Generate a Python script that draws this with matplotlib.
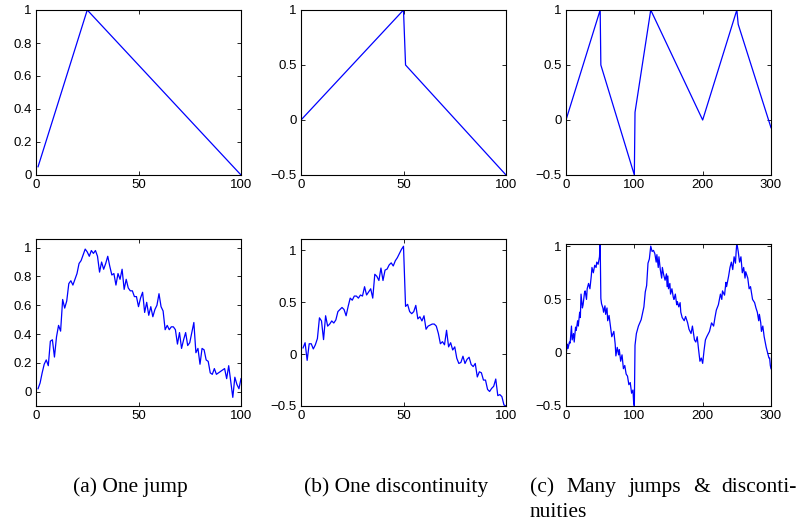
import numpy as np
import matplotlib
matplotlib.use("Agg")
import matplotlib.pyplot as plt

# clean signals (breakpoints)
jump_x = [1, 25, 100]
jump_y = [0.05, 1.0, 0.0]
disc_x = [0, 50, 51, 100]
disc_y = [0.0, 1.0, 0.5, -0.5]
many_x = [0, 50, 51, 100, 101, 124, 200, 250, 252, 300]
many_y = [0.0, 1.0, 0.5, -0.5, 0.07, 1.0, 0.0, 1.0, 0.87, -0.07]

# noisy observations
noisy_jump_x = list(range(1, 101))
noisy_jump_y = [
    0.02, 0.06, 0.13, 0.19, 0.22, 0.18, 0.35, 0.36, 0.24, 0.38,
    0.46, 0.42, 0.64, 0.58, 0.63, 0.75, 0.77, 0.74, 0.78, 0.82,
    0.89, 0.91, 0.95, 0.99, 0.97, 0.94, 0.98, 0.96, 0.98, 0.94,
    0.83, 0.90, 0.85, 0.89, 0.94, 0.87, 0.81, 0.82, 0.74, 0.82,
    0.78, 0.85, 0.71, 0.78, 0.72, 0.70, 0.70, 0.66, 0.66, 0.59,
    0.65, 0.69, 0.55, 0.62, 0.53, 0.59, 0.52, 0.57, 0.60, 0.68,
    0.59, 0.56, 0.43, 0.46, 0.43, 0.45, 0.45, 0.43, 0.33, 0.41,
    0.30, 0.36, 0.41, 0.32, 0.34, 0.41, 0.48, 0.27, 0.30, 0.19,
    0.30, 0.29, 0.22, 0.21, 0.13, 0.12, 0.16, 0.12, 0.13, 0.14,
    0.15, 0.16, 0.09, 0.18, 0.07, -0.04, 0.10, 0.05, 0.02, 0.09,
]
noisy_disc_x = list(range(1, 101))
noisy_disc_y = [
    0.06, 0.11, -0.06, 0.10, 0.10, 0.05, 0.09, 0.15, 0.35, 0.32,
    0.14, 0.37, 0.27, 0.29, 0.32, 0.30, 0.33, 0.41, 0.43, 0.45,
    0.43, 0.37, 0.46, 0.54, 0.52, 0.56, 0.56, 0.54, 0.57, 0.56,
    0.65, 0.57, 0.60, 0.63, 0.54, 0.77, 0.75, 0.71, 0.83, 0.71,
    0.81, 0.82, 0.86, 0.88, 0.85, 0.90, 0.93, 0.97, 1.01, 1.04,
    0.46, 0.48, 0.41, 0.39, 0.41, 0.47, 0.34, 0.36, 0.32, 0.37,
    0.24, 0.27, 0.28, 0.29, 0.29, 0.27, 0.20, 0.10, 0.12, 0.09,
    0.23, 0.07, 0.11, 0.04, 0.07, -0.04, -0.09, -0.08, -0.02, -0.09,
    -0.05, -0.03, -0.10, -0.12, -0.09, -0.22, -0.17, -0.18, -0.25, -0.25,
    -0.34, -0.36, -0.33, -0.31, -0.24, -0.40, -0.39, -0.41, -0.49, -0.50,
]
noisy_many_x = [
    0, 2, 3, 5, 6, 8, 9, 11, 12, 14, 15, 17, 18, 20, 21, 22, 24, 25, 27,
    28, 30, 31, 33, 35, 37, 38, 40, 42, 44, 45, 47, 49, 50,
    51, 52, 54, 55, 57, 58, 60, 61, 63, 65, 67, 70, 72, 73, 75, 77, 78,
    80, 82, 84, 86, 88, 90, 92, 94, 96, 98, 99, 100,
    101, 103, 106, 110, 114, 116, 118, 120, 122, 124,
    126, 128, 130, 132, 133, 135, 136, 138, 140, 141, 143, 145, 147, 148,
    149, 150, 152, 153, 155, 157, 158, 160, 162, 163, 165, 167, 168, 170,
    173, 175, 178, 180, 183, 185, 188, 190, 192, 194, 196, 198, 200,
    202, 204, 206, 210, 213, 216, 218, 220, 223, 226, 228, 229, 232, 234,
    235, 238, 240, 242, 244, 246, 248, 249, 250,
    252, 254, 256, 258, 260, 262, 263, 266, 268, 270, 273, 276, 278, 280,
    282, 283, 285, 286, 288, 290, 293, 295, 297, 298, 299, 300,
]
noisy_many_y = [
    -0.02, 0.08, 0.04, 0.10, 0.09, 0.25, 0.12, 0.18, 0.10, 0.24, 0.21, 0.30, 0.25, 0.38, 0.33, 0.55, 0.42, 0.45, 0.56,
    0.58, 0.50, 0.60, 0.65, 0.60, 0.72, 0.80, 0.75, 0.82, 0.80, 0.85, 0.83, 0.90, 1.03,
    0.51, 0.46, 0.42, 0.38, 0.44, 0.36, 0.42, 0.30, 0.35, 0.25, 0.15, 0.20, 0.08, -0.03, 0.05, -0.02, 0.03,
    -0.08, -0.02, -0.15, -0.12, -0.20, -0.22, -0.30, -0.28, -0.38, -0.35, -0.47, -0.50,
    0.07, 0.18, 0.25, 0.31, 0.43, 0.57, 0.63, 0.84, 0.88, 1.00,
    0.95, 0.96, 0.93, 0.85, 0.92, 0.80, 0.90, 0.78, 0.70, 0.80, 0.73, 0.68, 0.74, 0.62,
    0.72, 0.60, 0.65, 0.55, 0.60, 0.52, 0.50, 0.55, 0.45, 0.48, 0.43, 0.47, 0.38, 0.33,
    0.30, 0.34, 0.28, 0.22, 0.18, 0.25, 0.12, 0.10, 0.15, 0.03, -0.08, -0.05, -0.10,
    0.02, 0.12, 0.15, 0.20, 0.28, 0.25, 0.33, 0.40, 0.45, 0.55, 0.50, 0.58, 0.54, 0.66,
    0.62, 0.72, 0.80, 0.85, 0.78, 0.90, 0.84, 0.95, 1.03,
    0.95, 0.85, 0.90, 0.75, 0.80, 0.70, 0.76, 0.70, 0.60, 0.62, 0.50, 0.47, 0.42, 0.38,
    0.30, 0.36, 0.28, 0.20, 0.25, 0.15, 0.05, 0.00, -0.05, -0.05, -0.12, -0.15,
]

captions = ["(a) One jump", "(b) One discontinuity",
            "(c) Many jumps & disconti-", "nuities"]

plt.rcParams['font.family'] = ['Liberation Sans', 'DejaVu Sans']
plt.rcParams['font.size'] = 9.5

W, H = 799, 525
fig = plt.figure(figsize=(W / 100, H / 100), dpi=100)

def make_ax(left, top, right, bottom):
    ax = fig.add_axes([left / W, 1 - bottom / H, (right - left) / W, (bottom - top) / H])
    ax.tick_params(direction='in', top=True, right=True, length=3, width=0.6, pad=3)
    for s in ax.spines.values():
        s.set_linewidth(0.8)
    return ax

blue = (0, 0, 1)
lw = 0.9

# top row: clean signals
ax = make_ax(36, 10, 241, 175)
ax.plot(jump_x, jump_y, color=blue, lw=lw)
ax.set_xlim(0, 100); ax.set_ylim(0, 1)
ax.set_xticks([0, 50, 100]); ax.set_yticks([0, 0.2, 0.4, 0.6, 0.8, 1])
ax.set_yticklabels(['0', '0.2', '0.4', '0.6', '0.8', '1'])

ax = make_ax(301, 10, 506, 175)
ax.plot(disc_x, disc_y, color=blue, lw=lw)
ax.set_xlim(0, 100); ax.set_ylim(-0.5, 1)
ax.set_xticks([0, 50, 100]); ax.set_yticks([-0.5, 0, 0.5, 1])
ax.set_yticklabels(['\u22120.5', '0', '0.5', '1'])

ax = make_ax(566, 10, 771, 175)
ax.plot(many_x, many_y, color=blue, lw=lw)
ax.set_xlim(0, 300); ax.set_ylim(-0.5, 1)
ax.set_xticks([0, 100, 200, 300]); ax.set_yticks([-0.5, 0, 0.5, 1])
ax.set_yticklabels(['\u22120.5', '0', '0.5', '1'])

# bottom row: noisy versions
ax = make_ax(36, 239, 241, 406)
ax.plot(noisy_jump_x, noisy_jump_y, color=blue, lw=lw)
ax.set_xlim(0, 100); ax.set_ylim(-0.1, 1.06)
ax.set_xticks([0, 50, 100]); ax.set_yticks([0, 0.2, 0.4, 0.6, 0.8, 1])
ax.set_yticklabels(['0', '0.2', '0.4', '0.6', '0.8', '1'])

ax = make_ax(301, 239, 506, 406)
ax.plot(noisy_disc_x, noisy_disc_y, color=blue, lw=lw)
ax.set_xlim(0, 100); ax.set_ylim(-0.5, 1.11)
ax.set_xticks([0, 50, 100]); ax.set_yticks([-0.5, 0, 0.5, 1])
ax.set_yticklabels(['\u22120.5', '0', '0.5', '1'])

ax = make_ax(566, 244, 771, 406)
ax.plot(noisy_many_x, noisy_many_y, color=blue, lw=lw)
ax.set_xlim(0, 300); ax.set_ylim(-0.5, 1.02)
ax.set_xticks([0, 100, 200, 300]); ax.set_yticks([-0.5, 0, 0.5, 1])
ax.set_yticklabels(['\u22120.5', '0', '0.5', '1'])

# subfigure captions
cap = dict(family='Liberation Serif', fontsize=15.5, ha='left', va='baseline')
fig.text(73 / W, 1 - 492 / H, captions[0], **cap)
fig.text(304 / W, 1 - 492 / H, captions[1], **cap)

# first line of the third caption is justified between x0 and x1 (pixels)
x0, x1 = 530, 797
renderer = fig.canvas.get_renderer()
texts = [fig.text(0, 1 - 492 / H, w, **cap) for w in captions[2].split(' ')]
widths = [t.get_window_extent(renderer).width for t in texts]
gap = (x1 - x0 - sum(widths)) / (len(texts) - 1)
xpos = x0
for t, w in zip(texts, widths):
    t.set_x(xpos / W)
    xpos += w + gap
fig.text(x0 / W, 1 - 517 / H, captions[3], **cap)

fig.savefig("out.png", dpi=100)
